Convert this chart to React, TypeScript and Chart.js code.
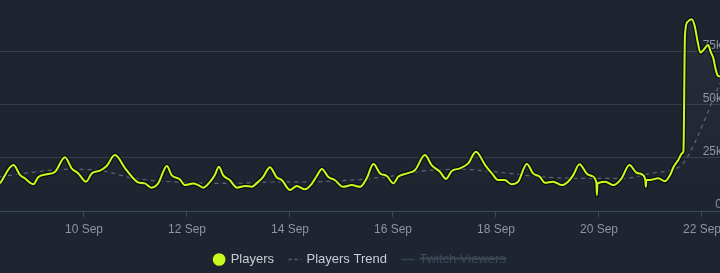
import React, { useEffect, useRef } from 'react';
import { Chart, registerables } from 'chart.js';

Chart.register(...registerables);

// Time values are days of September (decimal), counts are concurrent players
const playerTimes = [
  8.37, 8.63, 8.76, 8.85, 9.02, 9.11, 9.28, 9.44, 9.63, 9.76, 9.89,
  10.04, 10.15, 10.31, 10.44, 10.6, 10.8, 10.93, 11.05, 11.18, 11.31, 11.44, 11.61, 11.7, 11.86, 11.96,
  12.12, 12.22, 12.32, 12.45, 12.54, 12.62, 12.7, 12.83, 12.97, 13.13, 13.26, 13.35, 13.48, 13.61, 13.74, 13.84,
  14.0, 14.13, 14.29, 14.42, 14.52, 14.62, 14.74, 14.87, 15.03, 15.2, 15.36, 15.49, 15.62, 15.75, 15.88,
  16.01, 16.1, 16.27, 16.43, 16.62, 16.75, 16.91, 17.03, 17.14, 17.3, 17.46, 17.61, 17.79, 17.92,
  18.04, 18.17, 18.3, 18.43, 18.6, 18.72, 18.85, 18.95, 19.11, 19.28, 19.4, 19.5, 19.62, 19.76, 19.86,
  19.95, 19.96, 19.97, 20.12, 20.28, 20.44, 20.59, 20.73, 20.83, 20.9, 20.91, 20.92, 20.99,
  21.15, 21.28, 21.38, 21.45, 21.54, 21.62, 21.64, 21.67, 21.72, 21.8, 21.86, 21.91, 21.97,
  22.03, 22.12, 22.17, 22.22, 22.26, 22.3, 22.35,
];
const playerCounts = [
  13000, 21600, 16900, 15400, 12600, 15900, 17300, 18500, 25300, 20100, 17700,
  13800, 17700, 19000, 21200, 26300, 20100, 16100, 13500, 13000, 11000, 13000, 21200, 16900, 14900, 12200,
  13000, 12200, 11000, 13800, 16900, 20800, 16900, 14600, 11000, 11800, 11400, 13000, 16100, 20600, 15900, 14600,
  9900, 11800, 10200, 12700, 16500, 19800, 16100, 14600, 11400, 12200, 11400, 15400, 22100, 17700, 16500,
  13000, 16100, 17700, 19300, 26300, 21600, 18500, 15100, 18800, 20100, 22400, 27900, 21600, 17700,
  14600, 14600, 12600, 13800, 22100, 17700, 16100, 13300, 13800, 12200, 13800, 16900, 22000, 17700, 16500,
  13300, 7500, 13000, 13800, 12200, 15400, 21600, 18000, 17300, 14600, 11400, 14600, 14600,
  15400, 14000, 16900, 20800, 24000, 27300, 28200, 83000, 89000, 90200, 87000, 80500, 74500,
  75800, 78100, 74800, 72000, 67300, 64000, 63200,
];

const trendTimes = [
  8.37, 9.0, 9.66, 10.25, 10.96, 11.99, 12.96, 13.5, 14.5, 15.35, 16.0, 16.65, 17.3, 17.95,
  18.85, 19.6, 20.5, 20.99, 21.41, 21.6, 21.72, 22.35,
];
const trendCounts = [
  16100, 18200, 19600, 19300, 15400, 13400, 13000, 13600, 13800, 14800, 16500, 19000, 19600, 18500,
  16100, 15400, 15400, 17700, 19300, 21600, 25400, 60200,
];

const twitchTimes: number[] = [];
const twitchCounts: number[] = [];

const xTickDays = [10, 12, 14, 16, 18, 20, 22];
const yTickValues = [0, 25000, 50000, 75000];
const seriesNames = ['Players', 'Players Trend', 'Twitch Viewers'];

const X_MIN = 8.369;
const X_MAX = 22.35;
const Y_MAX = 99300;

const BG = '#1e2430';
const GREEN = '#c8fa1e';
const GRID = '#363d4a';
const AXIS = '#3a4a5e';
const TICK = '#8d959e';
const TREND = '#5d6572';
const LEGEND_TEXT = '#c5ced6';
const HIDDEN_TEXT = '#3c4757';

export default function App() {
  const ref = useRef<HTMLCanvasElement>(null);

  useEffect(() => {
    document.body.style.margin = '0';
    document.body.style.background = BG;
    document.body.style.overflow = 'hidden';
    Chart.defaults.font.family = "'Liberation Sans', Arial, sans-serif";

    const playerPts = playerTimes.map((t, i) => ({ x: t, y: playerCounts[i] }));
    const trendPts = trendTimes.map((t, i) => ({ x: t, y: trendCounts[i] }));
    const twitchPts = twitchTimes.map((t, i) => ({ x: t, y: twitchCounts[i] }));

    const chart = new Chart(ref.current as HTMLCanvasElement, {
      type: 'line',
      data: {
        datasets: [
          {
            label: seriesNames[0],
            data: playerPts,
            borderColor: GREEN,
            borderWidth: 2,
            pointRadius: 0,
            cubicInterpolationMode: 'monotone',
            fill: false,
            order: 0,
          },
          {
            label: 'outline',
            data: playerPts,
            borderColor: 'rgba(5,8,12,0.75)',
            borderWidth: 4.5,
            pointRadius: 0,
            cubicInterpolationMode: 'monotone',
            fill: 'origin',
            backgroundColor: (c: any) => {
              const { ctx, chartArea } = c.chart;
              if (!chartArea) return 'rgba(0,0,0,0)';
              const g = ctx.createLinearGradient(0, chartArea.top, 0, chartArea.bottom);
              g.addColorStop(0, 'rgba(255,255,255,0.05)');
              g.addColorStop(1, 'rgba(255,255,255,0.0)');
              return g;
            },
            order: 1,
          },
          {
            label: seriesNames[1],
            data: trendPts,
            borderColor: TREND,
            borderWidth: 1.2,
            borderDash: [4, 4],
            pointRadius: 0,
            cubicInterpolationMode: 'monotone',
            fill: false,
            order: 2,
          },
          {
            label: seriesNames[2],
            data: twitchPts,
            borderColor: '#6441a5',
            borderWidth: 1.5,
            pointRadius: 0,
            hidden: true,
            fill: false,
            order: 3,
          },
        ],
      } as any,
      options: {
        animation: false,
        responsive: true,
        maintainAspectRatio: false,
        devicePixelRatio: 1,
        layout: { padding: 0 },
        scales: {
          x: {
            type: 'linear',
            min: X_MIN,
            max: X_MAX,
            afterBuildTicks: (s: any) => {
              s.ticks = xTickDays.map((v) => ({ value: v }));
            },
            afterFit: (s: any) => {
              s.height = 26;
              s.paddingLeft = 0;
              s.paddingRight = 0;
            },
            grid: { display: true, drawOnChartArea: false, drawTicks: true, tickLength: 6, color: AXIS },
            border: { display: true, color: AXIS },
            ticks: {
              autoSkip: false,
              maxRotation: 0,
              padding: 5,
              color: TICK,
              font: { size: 12 },
              callback: (v: any) => v + ' Sep',
            },
          },
          y: {
            position: 'right',
            min: 0,
            max: Y_MAX,
            afterBuildTicks: (s: any) => {
              s.ticks = yTickValues.map((v) => ({ value: v }));
            },
            afterFit: (s: any) => {
              s.width = 0;
              s.paddingTop = 0;
              s.paddingBottom = 0;
            },
            grid: { color: GRID, drawTicks: false, lineWidth: 1 },
            border: { display: false },
            ticks: {
              mirror: true,
              padding: 2,
              labelOffset: -6,
              color: TICK,
              font: { size: 12 },
              callback: (v: any) => (v === 0 ? '0' : v / 1000 + 'k'),
            },
          },
        },
        plugins: {
          tooltip: { enabled: false },
          legend: {
            position: 'bottom',
            labels: {
              usePointStyle: true,
              boxHeight: 9,
              boxWidth: 10,
              padding: 16,
              color: LEGEND_TEXT,
              font: { size: 13 },
              generateLabels: () => [
                {
                  text: seriesNames[0],
                  fillStyle: GREEN,
                  strokeStyle: GREEN,
                  lineWidth: 0,
                  pointStyle: 'circle',
                  hidden: false,
                  datasetIndex: 0,
                  fontColor: LEGEND_TEXT,
                },
                {
                  text: seriesNames[1],
                  fillStyle: 'rgba(0,0,0,0)',
                  strokeStyle: TREND,
                  lineWidth: 1.5,
                  lineDash: [3, 3],
                  pointStyle: 'line',
                  hidden: false,
                  datasetIndex: 2,
                  fontColor: LEGEND_TEXT,
                },
                {
                  text: seriesNames[2],
                  fillStyle: 'rgba(0,0,0,0)',
                  strokeStyle: '#34425a',
                  lineWidth: 1.5,
                  pointStyle: 'line',
                  hidden: true,
                  datasetIndex: 3,
                  fontColor: HIDDEN_TEXT,
                },
              ] as any,
            },
          },
        },
      } as any,
    });

    return () => chart.destroy();
  }, []);

  return (
    <div style={{ position: 'fixed', left: 0, top: 0, width: 720, height: 276, background: BG }}>
      <canvas ref={ref} />
    </div>
  );
}
